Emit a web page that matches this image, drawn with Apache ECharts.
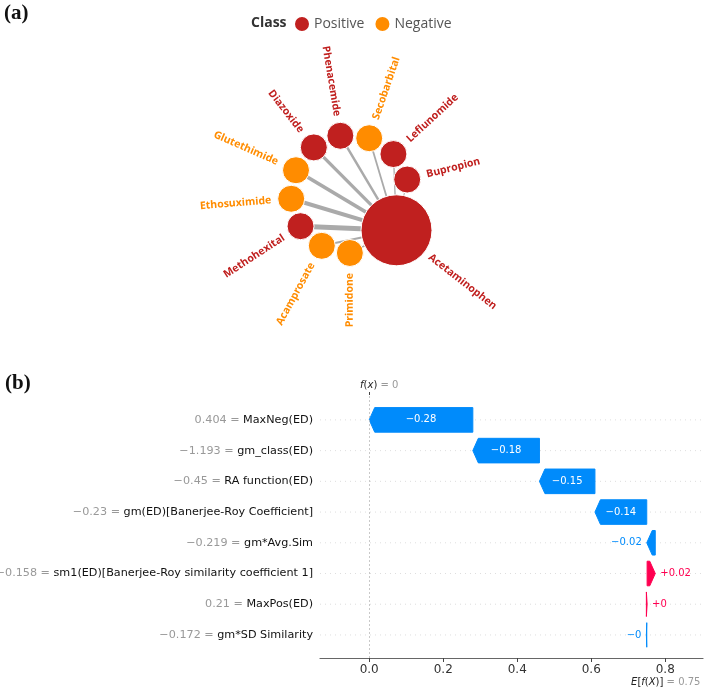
<!DOCTYPE html>
<html><head><meta charset="utf-8">
<script src="https://cdn.jsdelivr.net/npm/echarts@6/dist/echarts.min.js"></script>
<style>html,body{margin:0;padding:0;background:#fff}#c{width:708px;height:688px}</style>
</head><body><div id="c"></div>
<script>
// ---------- (a) network data ----------
const nodeNames = ['Acetaminophen','Primidone','Acamprosate','Methohexital','Ethosuximide','Glutethimide','Diazoxide','Phenacemide','Secobarbital','Leflunomide','Bupropion'];
const nodeClasses = ['Positive','Negative','Negative','Positive','Negative','Negative','Positive','Positive','Negative','Positive','Positive'];
// similarity weights of the edges from each neighbour (nodeNames[1..]) to Acetaminophen
const edgeWeights = [1.5, 2, 5, 4, 3.7, 3.3, 2.5, 1.8, 1.3, 1];
const classNames = ['Positive','Negative'];

// ---------- (b) waterfall data ----------
const featureNames = ['MaxNeg(ED)','gm_class(ED)','RA function(ED)','gm(ED)[Banerjee-Roy Coefficient]','gm*Avg.Sim','sm1(ED)[Banerjee-Roy similarity coefficient 1]','MaxPos(ED)','gm*SD Similarity'];
const featureValues = ['0.404','\u22121.193','\u22120.45','\u22120.23','\u22120.219','\u22120.158','0.21','\u22120.172'];
const shapValues = [-0.28, -0.18, -0.15, -0.14, -0.023, 0.022, 0.002, -0.001];
const baseValue = 0.75;
const fxValue = 0;
const xTicks = [0, 0.2, 0.4, 0.6, 0.8];

const RED = '#C0201F', ORANGE = '#FF8C00';
const classColors = {Positive: RED, Negative: ORANGE};
const BLUE = '#008BFB', PINK = '#FF0051';
const HEAD = 5.5;

const chart = echarts.init(document.getElementById('c'));

// graph nodes / links
const degree = nodeNames.map((n, i) => i === 0 ? edgeWeights.length : 1);
const nodes = nodeNames.map((name, i) => ({
  name: name,
  category: classNames.indexOf(nodeClasses[i]),
  symbolSize: 27 + (degree[i] - 1) * 44 / 9,
  label: {color: classColors[nodeClasses[i]]}
}));
const links = edgeWeights.map((w, i) => ({source: nodeNames[0], target: nodeNames[i + 1], lineStyle: {width: w}}));

// waterfall rows
const n = featureNames.length;
const rows = new Array(n);
let cum = baseValue;
for (let i = n - 1; i >= 0; i--) {
  const start = cum, end = cum + shapValues[i];
  rows[i] = [start, end, n - 1 - i, shapValues[i], i];
  cum = end;
}
function fmtShap(v) {
  let s = Math.abs(v).toFixed(2);
  s = s.replace(/0+$/, '').replace(/\.$/, '');
  return (v < 0 ? '\u2212' : '+') + s;
}
const ctx = document.createElement('canvas').getContext('2d');
ctx.font = '10px "DejaVu Sans"';
function tw(t) { return ctx.measureText(t).width; }

function renderItem(params, api) {
  const start = api.value(0), end = api.value(1), y = api.value(2), v = api.value(3);
  const p0 = api.coord([start, y]), p1 = api.coord([end, y]);
  const h = api.size([0, 0.8])[1];
  const cs = params.coordSys;
  const color = v >= 0 ? PINK : BLUE;
  const dir = end >= start ? 1 : -1;
  const len = Math.abs(p1[0] - p0[0]);
  const hl = Math.min(HEAD, len);
  const yc = p0[1], top = yc - h / 2, bot = yc + h / 2;
  const xb = p1[0] - dir * hl;
  const points = [[p0[0], top], [xb, top], [p1[0], yc], [xb, bot], [p0[0], bot]];
  const label = fmtShap(v);
  const inside = tw(label) + 8 < len;
  let tx, align;
  if (inside) { tx = (p0[0] + p1[0]) / 2; align = 'center'; }
  else if (dir > 0) { tx = Math.max(p0[0], p1[0]) + 5; align = 'left'; }
  else { tx = Math.min(p0[0], p1[0]) - 5; align = 'right'; }
  return {
    type: 'group',
    children: [
      {type: 'line', silent: true, shape: {x1: cs.x, y1: yc, x2: cs.x + cs.width, y2: yc},
       style: {stroke: '#d0d0d0', lineWidth: 0.7, lineDash: [1, 4]}},
      {type: 'polygon', shape: {points: points}, style: {fill: color, stroke: color, lineWidth: 1}},
      {type: 'text', style: {text: label, x: tx, y: yc, align: align, verticalAlign: 'middle',
        fill: inside ? '#fff' : color, font: '10px "DejaVu Sans"'}}
    ]
  };
}

const xMin = -0.133, xMax = 0.902;
const option = {
  animation: false,
  title: {text: 'Class', left: 246, top: 11, textStyle: {fontFamily: 'Open Sans', fontWeight: 'bold', fontSize: 14, color: '#333'}},
  legend: {
    data: classNames, left: 288, top: 10, icon: 'circle', itemWidth: 16, itemHeight: 16, itemGap: 9,
    textStyle: {fontFamily: 'Open Sans', fontSize: 14, color: '#555', padding: [0, 0, 0, -1]},
    selectedMode: false
  },
  graphic: [
    {type: 'text', left: 4, top: 3, style: {text: '(a)', font: 'bold 21px "Liberation Serif"', fill: '#111'}},
    {type: 'text', left: 5, top: 373, style: {text: '(b)', font: 'bold 21px "Liberation Serif"', fill: '#111'}}
  ],
  grid: {left: 320, right: 5, top: 395, bottom: 30, outerBoundsMode: 'none', containLabel: false},
  xAxis: [
    {type: 'value', min: xMin, max: xMax, position: 'bottom',
     axisLine: {show: true, onZero: false, lineStyle: {color: '#666', width: 1.2}},
     axisTick: {show: true, customValues: xTicks, length: 4, lineStyle: {color: '#444'}},
     axisLabel: {customValues: xTicks, formatter: v => v.toFixed(1), fontSize: 12, color: '#333', fontFamily: 'DejaVu Sans', margin: 6},
     splitLine: {show: false}},
    {type: 'value', min: xMin, max: xMax, position: 'top',
     axisLine: {show: false, onZero: false},
     axisTick: {show: true, customValues: [fxValue], length: 3, lineStyle: {color: '#444'}},
     axisLabel: {customValues: [fxValue], formatter: () => '{i|f}{n|(}{i|x}{n|)}{g| = ' + fxValue + '}', margin: 5, padding: [0, 0, 0, 20],
       rich: {i: {fontStyle: 'italic', fontSize: 10, color: '#222', fontFamily: 'DejaVu Sans'},
              n: {fontSize: 10, color: '#222', fontFamily: 'DejaVu Sans'},
              g: {fontSize: 10, color: '#999', fontFamily: 'DejaVu Sans'}}},
     splitLine: {show: false}},
    {type: 'value', min: xMin, max: xMax, position: 'bottom',
     axisLine: {show: false, onZero: false}, axisTick: {show: false},
     axisLabel: {customValues: [baseValue], formatter: () => '{i|E}{n|[}{i|f}{n|(}{i|X}{n|)]}{g| = ' + baseValue + '}', margin: 19, padding: [0, 0, 0, 38],
       rich: {i: {fontStyle: 'italic', fontSize: 10, color: '#222', fontFamily: 'DejaVu Sans'},
              n: {fontSize: 10, color: '#222', fontFamily: 'DejaVu Sans'},
              g: {fontSize: 10, color: '#999', fontFamily: 'DejaVu Sans'}}},
     splitLine: {show: false}}
  ],
  yAxis: {type: 'value', min: -0.75, max: 7.81,
    axisLine: {show: false}, axisTick: {show: false}, splitLine: {show: false},
    axisLabel: {customValues: featureNames.map((_, i) => i), margin: 7,
      formatter: v => { const i = n - 1 - v; return '{g|' + featureValues[i] + ' = }{n|' + featureNames[i] + '}'; },
      rich: {g: {color: '#999', fontSize: 11.2, fontFamily: 'DejaVu Sans'}, n: {color: '#111', fontSize: 11.2, fontFamily: 'DejaVu Sans'}}}
  },
  series: [
    {
      type: 'graph', layout: 'circular', circular: {rotateLabel: true},
      left: 291, top: 135, width: 118, height: 118, roam: false,
      data: nodes, links: links,
      categories: classNames.map(c => ({name: c, itemStyle: {color: classColors[c]}})),
      label: {show: true, position: 'right', fontSize: 10.5, fontWeight: 'bold', fontFamily: 'Open Sans', distance: 6},
      itemStyle: {borderColor: '#fff', borderWidth: 1},
      lineStyle: {color: '#aaaaaa', opacity: 1, curveness: 0},
      emphasis: {disabled: true}
    },
    {
      type: 'custom', xAxisIndex: 0, yAxisIndex: 0, renderItem: renderItem, data: rows,
      encode: {x: [0, 1], y: 2},
      markLine: {silent: true, symbol: 'none', label: {show: false}, animation: false,
        lineStyle: {color: '#bbbbbb', type: [2, 2], width: 0.8}, data: [{xAxis: fxValue}]}
    }
  ]
};
chart.setOption(option);
</script></body></html>
